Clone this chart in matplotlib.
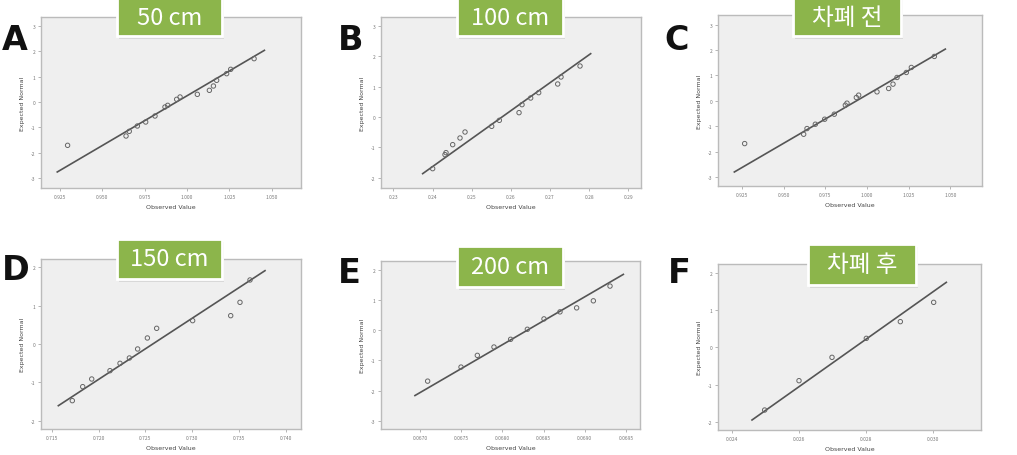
import matplotlib
matplotlib.use('Agg')
import matplotlib.pyplot as plt
from matplotlib.patches import FancyBboxPatch

plt.rcParams['font.family'] = ['Noto Sans CJK KR', 'DejaVu Sans']

W, H = 1017, 456

# ---- data ----
titles = ['50 cm', '100 cm', '차폐 전', '150 cm', '200 cm', '차폐 후']
letters = ['A', 'B', 'C', 'D', 'E', 'F']

a_x = [0.9295, 0.9640, 0.9659, 0.9707, 0.9756, 0.9811, 0.9870, 0.9886, 0.9939,
       0.9959, 1.0061, 1.0132, 1.0156, 1.0175, 1.0234, 1.0258, 1.0396]
a_y = [-1.715, -1.346, -1.161, -0.950, -0.792, -0.554, -0.198, -0.132, 0.106,
       0.198, 0.303, 0.462, 0.633, 0.858, 1.121, 1.293, 1.715]
a_line = ([0.9234, 1.0457], [-2.77, 2.045])
a_xticks = [0.925, 0.950, 0.975, 1.000, 1.025, 1.050]
a_yticks = [3, 2, 1, 0, -1, -2, -3]

b_x = [0.24004, 0.24319, 0.24345, 0.24515, 0.24702, 0.24830, 0.25511, 0.25706,
       0.26209, 0.26285, 0.26506, 0.26711, 0.27196, 0.27281, 0.27766]
b_y = [-1.703, -1.242, -1.176, -0.912, -0.692, -0.495, -0.308, -0.110,
       0.143, 0.407, 0.626, 0.802, 1.088, 1.319, 1.681]
b_line = ([0.23749, 0.28038], [-1.868, 2.088])
b_xticks = [0.23, 0.24, 0.25, 0.26, 0.27, 0.28, 0.29]
b_yticks = [3, 2, 1, 0, -1, -2]

c_x = [0.9266, 0.962, 0.964, 0.969, 0.9746, 0.9804, 0.987, 0.988, 0.9936,
       0.995, 1.006, 1.013, 1.0156, 1.018, 1.0236, 1.0266, 1.0404]
c_y = [-1.684, -1.316, -1.092, -0.921, -0.724, -0.526, -0.171, -0.092, 0.132,
       0.224, 0.355, 0.487, 0.658, 0.921, 1.118, 1.316, 1.75]
c_line = ([0.9204, 1.047], [-2.803, 2.039])
c_xticks = [0.925, 0.950, 0.975, 1.000, 1.025, 1.050]
c_yticks = [3, 2, 1, 0, -1, -2, -3]

d_x = [0.71720, 0.71831, 0.71927, 0.72122, 0.72229, 0.72329, 0.72417,
       0.72521, 0.72620, 0.73004, 0.73410, 0.73509, 0.73616]
d_y = [-1.478, -1.113, -0.913, -0.696, -0.504, -0.365, -0.130,
       0.157, 0.409, 0.609, 0.739, 1.087, 1.670]
d_line = ([0.71571, 0.73776], [-1.609, 1.913])
d_xticks = [0.715, 0.720, 0.725, 0.730, 0.735, 0.740]
d_yticks = [2, 1, 0, -1, -2]

e_x = [0.067093, 0.067498, 0.067696, 0.067898, 0.068100, 0.068303,
       0.068505, 0.068699, 0.068901, 0.069104, 0.069306]
e_y = [-1.689, -1.222, -0.833, -0.556, -0.300, 0.033,
       0.378, 0.611, 0.744, 0.978, 1.467]
e_line = ([0.066939, 0.069468], [-2.167, 1.856])
e_xticks = [0.0670, 0.0675, 0.0680, 0.0685, 0.0690, 0.0695]
e_yticks = [2, 1, 0, -1, -2, -3]

f_x = [0.024975, 0.026000, 0.026985, 0.028010, 0.029025, 0.030020]
f_y = [-1.679, -0.893, -0.268, 0.241, 0.688, 1.205]
f_line = ([0.024597, 0.030398], [-1.946, 1.741])
f_xticks = [0.024, 0.026, 0.028, 0.030]
f_yticks = [2, 1, 0, -1, -2]

panels = [
    (a_x, a_y, a_line, a_xticks, a_yticks, '%.3f', (0.9138, 1.0673), (-3.404, 3.364)),
    (b_x, b_y, b_line, b_xticks, b_yticks, '%.2f', (0.22685, 0.29323), (-2.341, 3.297)),
    (c_x, c_y, c_line, c_xticks, c_yticks, '%.3f', (0.9106, 1.069), (-3.355, 3.382)),
    (d_x, d_y, d_line, d_xticks, d_yticks, '%.3f', (0.71386, 0.7416), (-2.217, 2.217)),
    (e_x, e_y, e_line, e_xticks, e_yticks, '%.4f', (0.066527, 0.069670), (-3.278, 2.3)),
    (f_x, f_y, f_line, f_xticks, f_yticks, '%.3f', (0.023582, 0.031433), (-2.214, 2.232)),
]

# ---- layout in pixels ----
ax_px = [(41, 18, 301, 189), (381, 18, 641, 189), (718, 16, 982, 187),
         (41, 260, 301, 430), (381, 262, 640, 430), (718, 265, 981, 431)]
box_px = [(117, -4, 222, 37), (457, -4, 563, 37), (793, -4, 901, 37),
          (117, 240, 222, 280), (457, 247, 563, 288), (808, 245, 916, 286)]
letter_px = [(2, 40), (338, 40), (664, 40), (2, 271), (338, 274), (668, 274)]


def fx(px):
    return px / W


def fy(py):
    return 1 - py / H


fig = plt.figure(figsize=(W / 100, H / 100), dpi=100)
fig.patch.set_facecolor('white')

for i, (xs, ys, line, xt, yt, fmt, xlim, ylim) in enumerate(panels):
    x0, y0, x1, y1 = ax_px[i]
    ax = fig.add_axes([fx(x0), fy(y1), (x1 - x0) / W, (y1 - y0) / H])
    ax.set_facecolor('#efefef')
    ax.plot(line[0], line[1], color='#555555', lw=1.2, zorder=2)
    ax.scatter(xs, ys, s=10, facecolors='none', edgecolors='#666666',
               linewidths=0.7, zorder=3)
    ax.set_xlim(*xlim)
    ax.set_ylim(*ylim)
    ax.set_xticks(xt)
    ax.set_xticklabels([fmt % v for v in xt])
    ax.set_yticks(yt)
    ax.set_yticklabels([str(v) for v in yt])
    ax.tick_params(labelsize=3.5, length=2, width=0.5, colors='#999999',
                   labelcolor='#777777', pad=2)
    for s in ax.spines.values():
        s.set_color('#bbbbbb')
        s.set_linewidth(1.0)
    ax.set_xlabel('Observed Value', fontsize=4.5, color='#444444',
                  family='DejaVu Sans', labelpad=4)
    ax.set_ylabel('Expected Normal', fontsize=4.5, color='#444444',
                  family='DejaVu Sans', labelpad=4)

    # green title box
    bx0, by0, bx1, by1 = box_px[i]
    fig.patches.append(FancyBboxPatch(
        (fx(bx0) + 0.002, fy(by1) - 0.006), (bx1 - bx0) / W, (by1 - by0) / H,
        boxstyle='square,pad=0', transform=fig.transFigure,
        facecolor='#d8d8d8', edgecolor='none', zorder=9))
    fig.patches.append(FancyBboxPatch(
        (fx(bx0), fy(by1)), (bx1 - bx0) / W, (by1 - by0) / H,
        boxstyle='square,pad=0', transform=fig.transFigure,
        facecolor='#8cb54b', edgecolor='white', linewidth=2.0, zorder=10))
    fig.text(fx((bx0 + bx1) / 2), fy((max(by0, 0) + by1) / 2), titles[i],
             ha='center', va='center', color='white', fontsize=17,
             zorder=11)

    lx, ly = letter_px[i]
    fig.text(fx(lx), fy(ly), letters[i], ha='left', va='center',
             fontsize=24, fontweight='bold', color='#111111',
             family='DejaVu Sans')

fig.savefig('out.png', dpi=100)
